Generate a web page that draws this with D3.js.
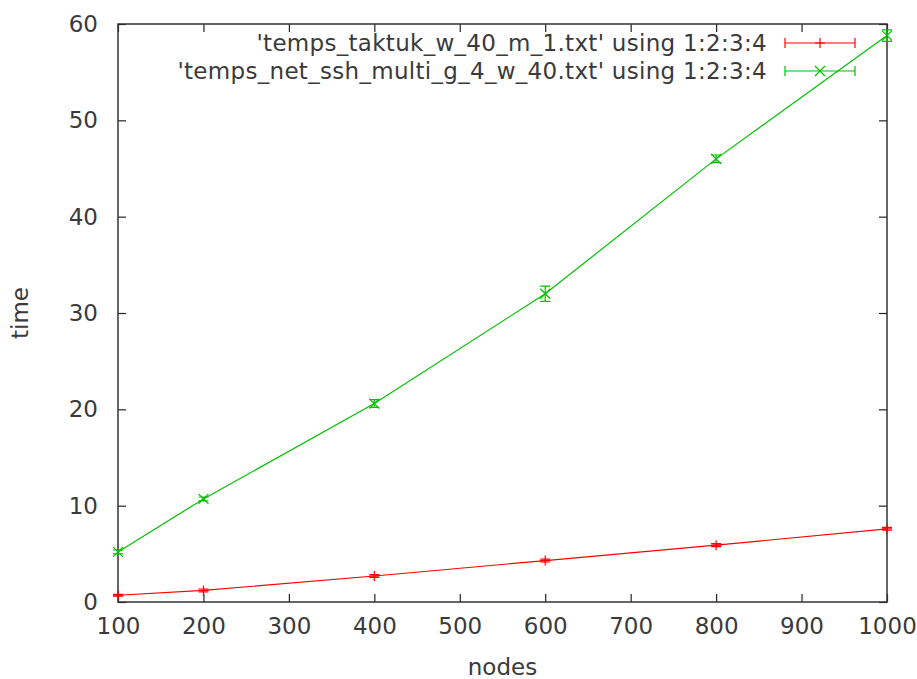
<!DOCTYPE html>
<html lang="en">
<head>
	<meta charset="UTF-8"/>
	<title>nodes vs time</title>
	<script src="https://d3js.org/d3.v7.min.js"></script>
	<style>
		body { margin: 0; background: #fff; }
		text { font-family: "DejaVu Sans", sans-serif; fill: #3a3a3a; }
	</style>
</head>
<body>
<script>
	var w = 917;
	var h = 679;

	// data
	var nodes = [100, 200, 400, 600, 800, 1000];
	var taktuk = [0.7, 1.2, 2.7, 4.3, 5.9, 7.6];
	var taktukErr = [0.1, 0.15, 0.15, 0.15, 0.15, 0.15];
	var ssh = [5.2, 10.7, 20.6, 32.0, 46.0, 58.8];
	var sshErr = [0.2, 0.2, 0.4, 0.8, 0.4, 0.6];
	var xTicks = [100, 200, 300, 400, 500, 600, 700, 800, 900, 1000];
	var yTicks = [0, 10, 20, 30, 40, 50, 60];

	var series = [
		{ name: "'temps_taktuk_w_40_m_1.txt' using 1:2:3:4", y: taktuk, err: taktukErr, color: "#ff0000", mark: "plus" },
		{ name: "'temps_net_ssh_multi_g_4_w_40.txt' using 1:2:3:4", y: ssh, err: sshErr, color: "#00c000", mark: "cross" }
	];

	var pLeft = 118, pRight = 887, pTop = 24, pBottom = 602;
	var fs = 23;

	var xScale = d3.scaleLinear().domain([100, 1000]).range([pLeft, pRight]);
	var yScale = d3.scaleLinear().domain([0, 60]).range([pBottom, pTop]);

	var svg = d3.select("body").append("svg")
		.attr("width", w)
		.attr("height", h);

	// ticks on all four sides, pointing inward
	var tick = 8;
	svg.append("g")
		.attr("transform", "translate(0," + pBottom + ")")
		.call(d3.axisBottom(xScale).tickValues(xTicks).tickSize(-tick).tickPadding(16).tickFormat(d3.format("d")))
		.call(function(g) { g.select(".domain").remove(); });
	svg.append("g")
		.attr("transform", "translate(0," + pTop + ")")
		.call(d3.axisTop(xScale).tickValues(xTicks).tickSize(-tick).tickFormat(""))
		.call(function(g) { g.select(".domain").remove(); });
	svg.append("g")
		.attr("transform", "translate(" + pLeft + ",0)")
		.call(d3.axisLeft(yScale).tickValues(yTicks).tickSize(-tick).tickPadding(20))
		.call(function(g) { g.select(".domain").remove(); });
	svg.append("g")
		.attr("transform", "translate(" + pRight + ",0)")
		.call(d3.axisRight(yScale).tickValues(yTicks).tickSize(-tick).tickFormat(""))
		.call(function(g) { g.select(".domain").remove(); });

	svg.selectAll(".tick line").attr("stroke", "#222").attr("stroke-width", 1.2);
	svg.selectAll(".tick text")
		.attr("font-size", fs)
		.attr("font-family", "DejaVu Sans, sans-serif")
		.attr("fill", "#3a3a3a");

	svg.append("rect")
		.attr("x", pLeft).attr("y", pTop)
		.attr("width", pRight - pLeft).attr("height", pBottom - pTop)
		.attr("fill", "none").attr("stroke", "#333").attr("stroke-width", 1.5);

	// axis labels
	svg.append("text")
		.attr("x", (pLeft + pRight) / 2).attr("y", 675)
		.attr("text-anchor", "middle").attr("font-size", fs)
		.text("nodes");
	svg.append("text")
		.attr("transform", "translate(28," + ((pTop + pBottom) / 2) + ") rotate(-90)")
		.attr("text-anchor", "middle").attr("font-size", fs)
		.text("time");

	function marker(g, x, y, type, color) {
		var s = 5;
		if (type == "plus") {
			g.append("path").attr("d", "M" + (x - s) + "," + y + "H" + (x + s) + "M" + x + "," + (y - s) + "V" + (y + s))
				.attr("stroke", color).attr("stroke-width", 1.2);
		} else {
			g.append("path").attr("d", "M" + (x - s) + "," + (y - s) + "L" + (x + s) + "," + (y + s) + "M" + (x - s) + "," + (y + s) + "L" + (x + s) + "," + (y - s))
				.attr("stroke", color).attr("stroke-width", 1.2);
		}
	}

	var line = d3.line()
		.x(function(d) { return xScale(d[0]); })
		.y(function(d) { return yScale(d[1]); });

	series.forEach(function(s, k) {
		var g = svg.append("g");
		var pts = nodes.map(function(n, i) { return [n, s.y[i], s.err[i]]; });
		g.append("path")
			.datum(pts)
			.attr("d", line)
			.attr("fill", "none")
			.attr("stroke", s.color)
			.attr("stroke-width", 1.2);
		pts.forEach(function(d) {
			var x = xScale(d[0]);
			var y0 = yScale(d[1] - d[2]), y1 = yScale(d[1] + d[2]);
			g.append("path")
				.attr("d", "M" + x + "," + y0 + "V" + y1 + "M" + (x - 5) + "," + y0 + "H" + (x + 5) + "M" + (x - 5) + "," + y1 + "H" + (x + 5))
				.attr("stroke", s.color).attr("stroke-width", 1.2).attr("fill", "none");
			marker(g, x, yScale(d[1]), s.mark, s.color);
		});

		// legend
		var ly = 43 + k * 28;
		svg.append("text")
			.attr("x", 767).attr("y", ly + 8)
			.attr("text-anchor", "end").attr("font-size", fs)
			.attr("letter-spacing", 0.3)
			.text(s.name);
		svg.append("path")
			.attr("d", "M785," + ly + "H855M785," + (ly - 5) + "V" + (ly + 5) + "M855," + (ly - 5) + "V" + (ly + 5))
			.attr("stroke", s.color).attr("stroke-width", 1.2).attr("fill", "none");
		marker(svg, 820, ly, s.mark, s.color);
	});
</script>
</body>
</html>
